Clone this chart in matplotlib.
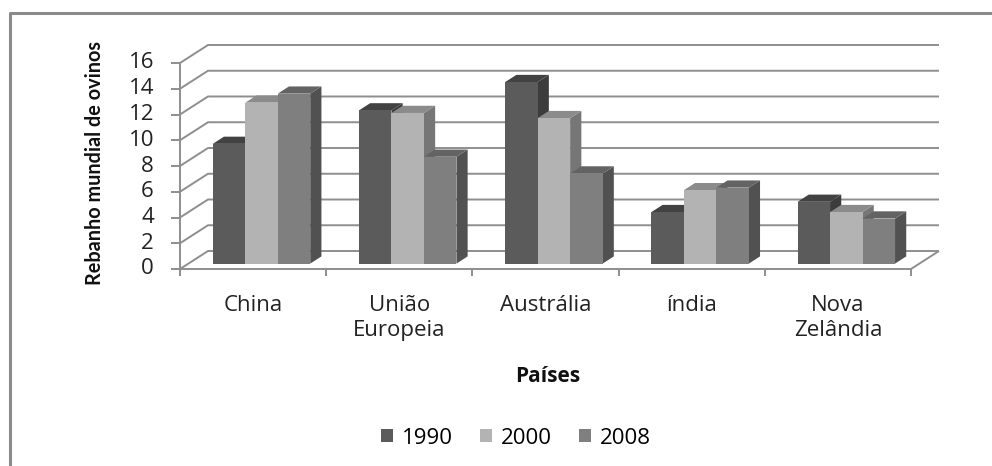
import matplotlib
matplotlib.use("Agg")
import matplotlib.pyplot as plt
from matplotlib.patches import Polygon, Patch
from matplotlib.lines import Line2D
from matplotlib.transforms import IdentityTransform

# Data: world sheep herd by country
categories = ["China", "União\nEuropeia", "Austrália", "índia", "Nova\nZelândia"]
years = ["1990", "2000", "2008"]
v1990 = [9.3, 11.9, 14.1, 4.0, 4.8]
v2000 = [12.5, 11.7, 11.3, 5.7, 4.0]
v2008 = [13.2, 8.3, 7.0, 5.9, 3.5]
y_ticks = [0, 2, 4, 6, 8, 10, 12, 14, 16]

series = [v1990, v2000, v2008]
front_cols = ["#5b5b5b", "#b3b3b3", "#7f7f7f"]
top_cols = ["#424242", "#8b8b8b", "#636363"]
side_cols = ["#3c3c3c", "#767676", "#515151"]
grid_col = "#8e8e8e"
txt_col = "#222222"
FS = 16

W, H, DPI = 992, 466, 100
fig = plt.figure(figsize=(W / DPI, H / DPI), dpi=DPI)
fig.patch.set_facecolor("white")

# front plane of the 3-D box
x0, x1, y0, y1 = 180, 911, 269, 63
ax = fig.add_axes([x0 / W, (H - y0) / H, (x1 - x0) / W, (y0 - y1) / H])
ax.set_xlim(0, len(categories))
ax.set_ylim(0, 16)
ax.axis("off")

DX, DY = 28, 18  # depth of the box in pixels (right, up)
IDT = IdentityTransform()


def P(x, v, f):
    px, py = ax.transData.transform((x, v))
    return (px + f * DX, py + f * DY)


def line(pts, z=1, lw=1.4, color=grid_col):
    xs, ys = zip(*pts)
    ax.add_artist(Line2D(xs, ys, transform=IDT, color=color, lw=lw,
                         zorder=z, clip_on=False, solid_capstyle="butt"))


n = len(categories)
# back wall gridlines and side wall diagonals
for v in y_ticks:
    line([P(0, v, 0), P(0, v, 1), P(n, v, 1)])
    # tick marks on the value axis
    line([(P(0, v, 0)[0] - 9, P(0, v, 0)[1]), P(0, v, 0)])
# floor edges
line([P(0, 0, 0), P(n, 0, 0), P(n, 0, 1)])
# value axis line
line([(P(0, 0, 0)[0], P(0, 0, 0)[1] - 4), P(0, 16, 0)])
# category ticks
for i in range(n + 1):
    p = P(i, 0, 0)
    line([p, (p[0], p[1] - 7)])

# 3-D bars
gap = 0.5
cluster = 1 / (1 + gap)
bw = cluster / len(series)
f0, f1 = 0.3, 0.7
z = 5
for ci in range(n):
    for si, vals in enumerate(series):
        xl = ci + (1 - cluster) / 2 + si * bw
        xr = xl + bw
        v = vals[ci]
        front = [P(xl, 0, f0), P(xr, 0, f0), P(xr, v, f0), P(xl, v, f0)]
        top = [P(xl, v, f0), P(xr, v, f0), P(xr, v, f1), P(xl, v, f1)]
        side = [P(xr, 0, f0), P(xr, 0, f1), P(xr, v, f1), P(xr, v, f0)]
        for pts, c in ((side, side_cols[si]), (top, top_cols[si]), (front, front_cols[si])):
            ax.add_artist(Polygon(pts, closed=True, transform=IDT, facecolor=c,
                                  edgecolor="none", zorder=z, clip_on=False))
            z += 1

# value tick labels
for v in y_ticks:
    px, py = P(0, v, 0)
    fig.text((px - 26) / W, py / H, str(v), ha="right", va="center",
             fontsize=FS, family="Open Sans", color=txt_col)

# category labels
for i, c in enumerate(categories):
    px, _ = P(i + 0.5, 0, 0)
    fig.text(px / W, (H - 295) / H, c, ha="center", va="top", fontsize=FS,
             family="Open Sans", color=txt_col, linespacing=1.25)

# axis titles
fig.text(548 / W, (H - 377) / H, "Países", ha="center", va="center",
         fontsize=15, family="Open Sans", fontweight="bold", color="#111111")
fig.text(95 / W, (H - 163) / H, "Rebanho mundial de ovinos", ha="center",
         va="center", rotation=90, fontsize=14.3, family="Lato",
         fontweight="bold", color="#111111")

# legend
handles = [Patch(facecolor=c, edgecolor="none") for c in front_cols]
fig.legend(handles, years, loc="center", bbox_to_anchor=(0.52, (H - 438) / H),
           ncol=3, frameon=False, prop={"family": "Open Sans", "size": FS},
           handlelength=0.55, handleheight=0.55, handletextpad=0.4,
           columnspacing=1.2)

# chart area border
fig.add_artist(Line2D([10 / W, 10 / W, 1.0], [0.0, (H - 13) / H, (H - 13) / H],
                      transform=fig.transFigure, color="#8a8a8a", lw=2.2))

fig.savefig("out.png", dpi=DPI)
